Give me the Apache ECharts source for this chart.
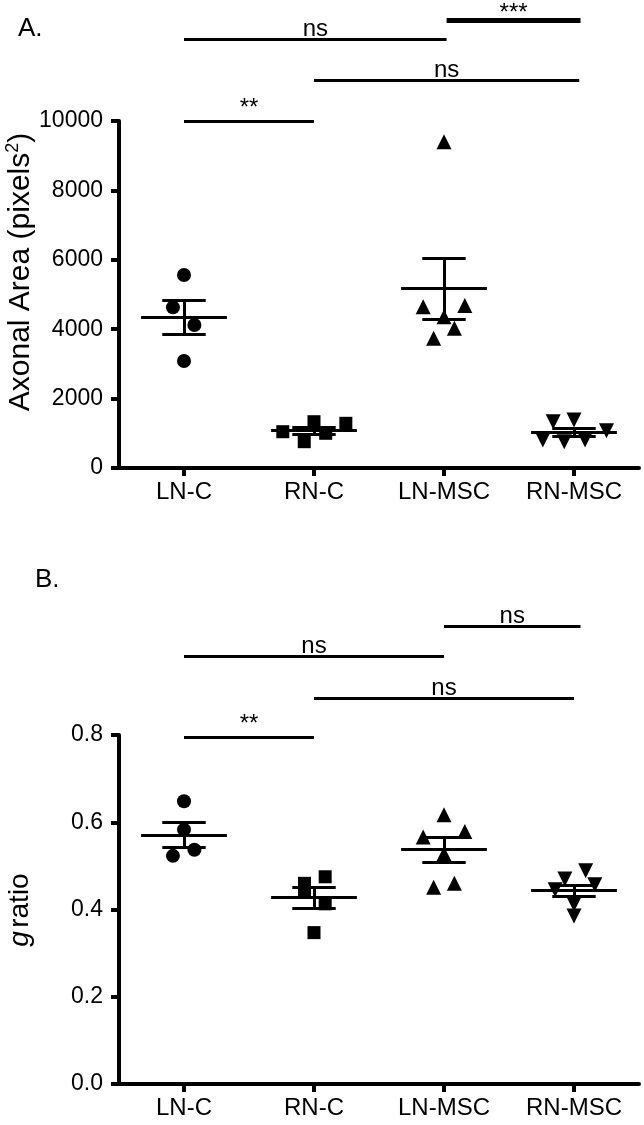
<!DOCTYPE html>
<html>
<head>
<meta charset="utf-8">
<script src="https://cdn.jsdelivr.net/npm/echarts@6/dist/echarts.min.js"></script>
<style>
html,body{margin:0;padding:0;background:#fff;}
#chart{width:644px;height:1125px;}
</style>
</head>
<body>
<div id="chart"></div>
<script>
// ---------- data ----------
const categories = ['LN-C', 'RN-C', 'LN-MSC', 'RN-MSC'];
const yTicksA = ['0', '2000', '4000', '6000', '8000', '10000'];
const yTicksB = ['0.0', '0.2', '0.4', '0.6', '0.8'];

// Panel A: axonal area (pixels^2), individual animals
const areaLNC   = [5560, 4630, 4120, 3085];
const areaRNC   = [1046, 758, 1334, 1000, 1288];
const areaLNMSC = [9400, 4650, 4680, 4360, 4025, 3737];
const areaRNMSC = [1334, 1383, 1075, 807, 758, 807];
const areaMean  = [4345, 1085, 5168, 1027];
const areaSem   = [500, 100, 875, 114];

// Panel B: g ratio, individual animals
const gLNC   = [0.648, 0.583, 0.523, 0.537];
const gRNC   = [0.460, 0.443, 0.475, 0.413, 0.347];
const gLNMSC = [0.617, 0.566, 0.579, 0.528, 0.451, 0.460];
const gRNMSC = [0.489, 0.470, 0.457, 0.445, 0.412, 0.385];
const gMean  = [0.571, 0.427, 0.537, 0.443];
const gSem   = [0.029, 0.024, 0.028, 0.012];

// horizontal scatter jitter (category units)
const jitLNC_A   = [0, -0.085, 0.08, 0];
const jitRNC_A   = [-0.24, -0.075, 0, 0.09, 0.245];
const jitLNMSC_A = [0, -0.16, 0.16, 0, 0.08, -0.08];
const jitRNMSC_A = [-0.16, 0, 0.25, -0.24, -0.075, 0.085];
const jitLNC_B   = [0, 0, -0.085, 0.08];
const jitRNC_B   = [-0.073, -0.073, 0.086, 0.086, 0];
const jitLNMSC_B = [0, -0.16, 0.16, 0, -0.08, 0.08];
const jitRNMSC_B = [0.09, -0.07, 0.16, -0.145, 0, 0];

// significance comparisons: [fromGroup, toGroup, label]
const sigA = [[0, 1, '**'], [1, 3.04, 'ns'], [0, 2.02, 'ns'], [2.02, 3.05, '***']];
const sigB = [[0, 1, '**'], [1, 3.0, 'ns'], [0, 2.0, 'ns'], [2.0, 3.05, 'ns']];

// ---------- chart ----------
const FONT = 'Liberation Sans, Arial, sans-serif';
const chart = echarts.init(document.getElementById('chart'), null, {renderer: 'canvas'});

function scat(vals, jit, gi, symbol, rot, xi, yi, size) {
  return {
    type: 'scatter', xAxisIndex: xi, yAxisIndex: yi, clip: false,
    symbol: symbol, symbolRotate: rot, symbolSize: size,
    itemStyle: {color: '#000', opacity: 1},
    data: vals.map((v, i) => [gi + jit[i], v]), z: 3
  };
}
function errLines(means, sems, xi, yi) {
  const d = [];
  means.forEach((m, i) => {
    const s = sems[i];
    d.push({coords: [[i - 0.33, m], [i + 0.33, m]]});
    d.push({coords: [[i - 0.167, m + s], [i + 0.167, m + s]]});
    d.push({coords: [[i - 0.167, m - s], [i + 0.167, m - s]]});
    d.push({coords: [[i, m - s], [i, m + s]]});
  });
  return {
    type: 'lines', coordinateSystem: 'cartesian2d', xAxisIndex: xi, yAxisIndex: yi,
    clip: false, polyline: false, z: 4,
    lineStyle: {color: '#000', width: 3, opacity: 1, curveness: 0},
    data: d
  };
}
const labelDist = {'ns': -2, '**': 1, '***': -5};
function sigSeries(sig, levels, widths, xi, yi) {
  const lines = {
    type: 'lines', coordinateSystem: 'cartesian2d', xAxisIndex: xi, yAxisIndex: yi,
    clip: false, polyline: false, z: 4,
    lineStyle: {color: '#000', width: 3, opacity: 1, curveness: 0},
    data: sig.map((s, i) => ({coords: [[s[0], levels[i]], [s[1], levels[i]]], lineStyle: {width: widths[i]}}))
  };
  const labels = {
    type: 'scatter', xAxisIndex: xi, yAxisIndex: yi, clip: false, symbolSize: 0,
    itemStyle: {color: 'rgba(0,0,0,0)', opacity: 1}, z: 5,
    data: sig.map((s, i) => ({
      value: [(s[0] + s[1]) / 2, levels[i]],
      label: {show: true, position: 'top', distance: labelDist[s[2]], formatter: s[2],
              color: '#000', opacity: 1, fontFamily: FONT, fontSize: 24}
    }))
  };
  return [lines, labels];
}

const axisLine = {show: true, onZero: false, lineStyle: {color: '#000', width: 4}};
const axisTick = {show: true, length: 8, lineStyle: {color: '#000', width: 4}};

function catAxis(gi) {
  return {
    gridIndex: gi, type: 'category', data: categories, boundaryGap: true, position: 'bottom',
    axisLine: axisLine, axisTick: Object.assign({alignWithLabel: true}, axisTick),
    axisLabel: {color: '#000', fontFamily: FONT, fontSize: 24, margin: 12},
    splitLine: {show: false}
  };
}
function valXAxis(gi) {
  return {gridIndex: gi, type: 'value', min: -0.5, max: 3.5, show: false, position: 'top'};
}

const option = {
  animation: false,
  backgroundColor: '#fff',
  grid: [
    {left: 119, top: 121, width: 520, height: 347},
    {left: 119, top: 735, width: 520, height: 349}
  ],
  xAxis: [catAxis(0), valXAxis(0), catAxis(1), valXAxis(1)],
  yAxis: [
    {gridIndex: 0, type: 'value', min: 0, max: 10000, interval: 2000,
     axisLine: axisLine, axisTick: axisTick, splitLine: {show: false},
     axisLabel: {color: '#000', fontFamily: FONT, fontSize: 23, margin: 16,
                 formatter: v => yTicksA[Math.round(v / 2000)]}},
    {gridIndex: 1, type: 'value', min: 0, max: 0.8, interval: 0.2,
     axisLine: axisLine, axisTick: axisTick, splitLine: {show: false},
     axisLabel: {color: '#000', fontFamily: FONT, fontSize: 23, margin: 16,
                 formatter: v => yTicksB[Math.round(v / 0.2)]}}
  ],
  graphic: [
    {type: 'text', left: 18, top: 16, style: {text: 'A.', font: '26px ' + FONT, fill: '#000'}},
    {type: 'text', left: 35, top: 567, style: {text: 'B.', font: '26px ' + FONT, fill: '#000'}},
    {type: 'text', x: 20, y: 272, rotation: Math.PI / 2,
     style: {text: '{a|Axonal Area (pixels}{s|2}{a|)}', align: 'center', verticalAlign: 'middle',
             rich: {a: {font: '30px ' + FONT, fill: '#000', verticalAlign: 'bottom'},
                    s: {font: '18px ' + FONT, fill: '#000', verticalAlign: 'top', padding: [0, 0, 13, 0]}}}},
    {type: 'text', x: 20, y: 910, rotation: Math.PI / 2,
     style: {text: '{i|g} {a|ratio}', align: 'center', verticalAlign: 'middle',
             rich: {i: {font: 'italic 28px ' + FONT, fill: '#000'},
                    a: {font: '28px ' + FONT, fill: '#000'}}}}
  ],
  series: [
    scat(areaLNC, jitLNC_A, 0, 'circle', 0, 1, 0, 14),
    scat(areaRNC, jitRNC_A, 1, 'rect', 0, 1, 0, 13),
    scat(areaLNMSC, jitLNMSC_A, 2, 'triangle', 0, 1, 0, 15),
    scat(areaRNMSC, jitRNMSC_A, 3, 'triangle', 180, 1, 0, 15),
    errLines(areaMean, areaSem, 1, 0),
    ...sigSeries(sigA, [10000, 11160, 12350, 12890], [3, 3, 3, 5], 1, 0),
    scat(gLNC, jitLNC_B, 0, 'circle', 0, 3, 1, 14),
    scat(gRNC, jitRNC_B, 1, 'rect', 0, 3, 1, 13),
    scat(gLNMSC, jitLNMSC_B, 2, 'triangle', 0, 3, 1, 15),
    scat(gRNMSC, jitRNMSC_B, 3, 'triangle', 180, 3, 1, 15),
    errLines(gMean, gSem, 3, 1),
    ...sigSeries(sigB, [0.794, 0.885, 0.980, 1.049], [3, 3, 3, 3], 3, 1)
  ]
};
chart.setOption(option);
</script>
</body>
</html>
